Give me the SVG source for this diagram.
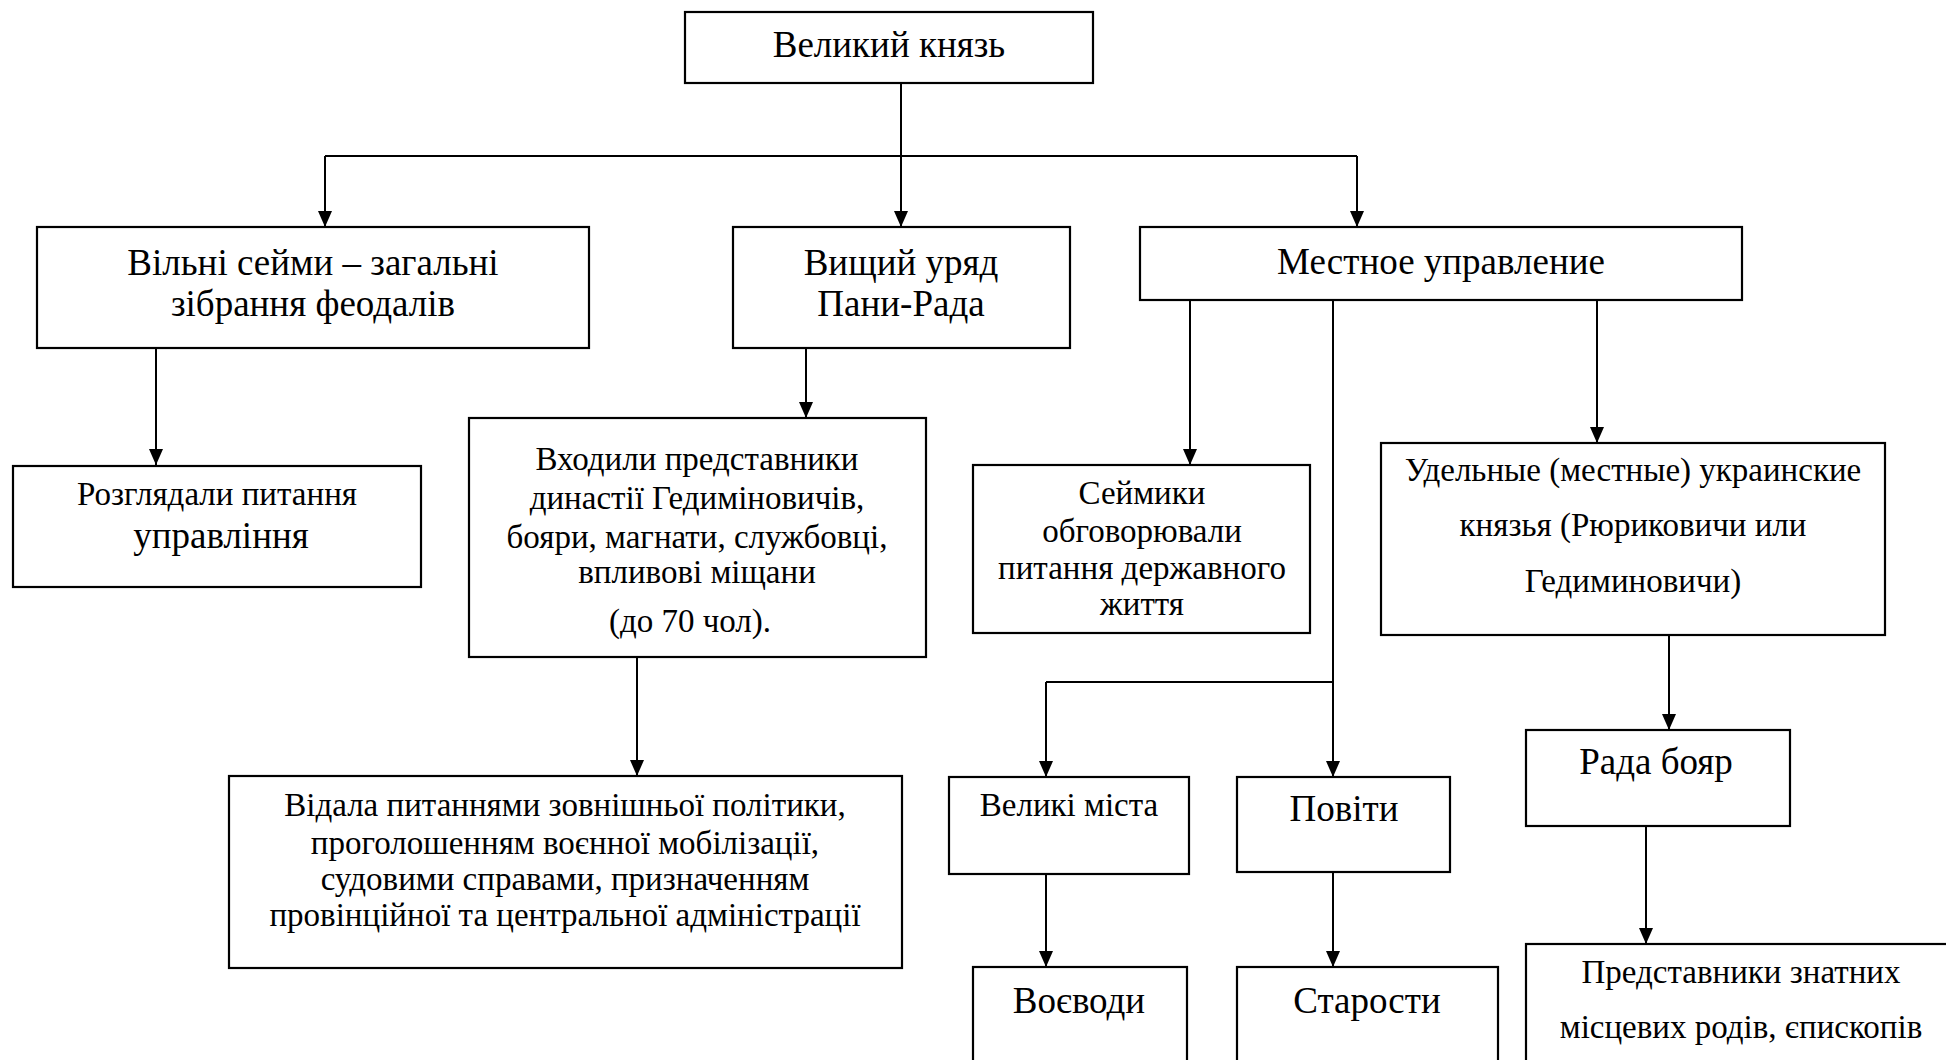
<svg xmlns="http://www.w3.org/2000/svg" width="1946" height="1060" viewBox="0 0 1946 1060">
<defs>
<style>
.box{fill:#fff;stroke:#000;stroke-width:2.2}
.t{font-family:"Liberation Serif","Times New Roman",serif;fill:#000;text-anchor:middle}
.b{font-size:37px}
.s{font-size:33px}
.c{fill:none;stroke:#000;stroke-width:2}
.a{marker-end:url(#ah)}
</style>
<marker id="ah" viewBox="0 0 16 14" markerWidth="16" markerHeight="14" refX="16" refY="7" orient="auto" markerUnits="userSpaceOnUse">
<path d="M0,0 L16,7 L0,14 z" fill="#000"/>
</marker>
</defs>
<rect width="1946" height="1060" fill="#fff"/>

<g id="connectors">
<path class="c" d="M325,156 H1357"/>
<path class="c a" d="M901,83 V227"/>
<path class="c a" d="M325,156 V227"/>
<path class="c a" d="M1357,156 V227"/>
<path class="c a" d="M156,348 V465"/>
<path class="c a" d="M806,348 V418"/>
<path class="c a" d="M637,657 V776"/>
<path class="c a" d="M1190,300 V465"/>
<path class="c a" d="M1333,300 V777"/>
<path class="c" d="M1046,682 H1333"/>
<path class="c a" d="M1046,682 V777"/>
<path class="c a" d="M1597,300 V443"/>
<path class="c a" d="M1669,635 V730"/>
<path class="c a" d="M1646,826 V944"/>
<path class="c a" d="M1046,874 V967"/>
<path class="c a" d="M1333,872 V967"/>
</g>

<g id="n-velykyi-kniaz">
<rect class="box" x="685" y="12" width="408" height="71"/>
<text class="t b" x="889" y="57">Великий князь</text>
</g>

<g id="n-vilni-seimy">
<rect class="box" x="37" y="227" width="552" height="121"/>
<text class="t b" x="313" y="275">Вільні сейми – загальні</text>
<text class="t b" x="313" y="316">зібрання феодалів</text>
</g>

<g id="n-vyshchyi-uriad">
<rect class="box" x="733" y="227" width="337" height="121"/>
<text class="t b" x="901" y="275">Вищий уряд</text>
<text class="t b" x="901" y="316">Пани-Рада</text>
</g>

<g id="n-mestnoe">
<rect class="box" x="1140" y="227" width="602" height="73"/>
<text class="t b" x="1441" y="274">Местное управление</text>
</g>

<g id="n-rozgliadaly">
<rect class="box" x="13" y="466" width="408" height="121"/>
<text class="t s" x="217" y="505">Розглядали питання</text>
<text class="t b" x="221" y="548">управління</text>
</g>

<g id="n-vkhodyly">
<rect class="box" x="469" y="418" width="457" height="239"/>
<text class="t s" x="697" y="470">Входили представники</text>
<text class="t s" x="697" y="509">династії Гедиміновичів,</text>
<text class="t s" x="697" y="548">бояри, магнати, службовці,</text>
<text class="t s" x="697" y="583">впливові міщани</text>
<text class="t s" x="690" y="632">(до 70 чол).</text>
</g>

<g id="n-vidala">
<rect class="box" x="229" y="776" width="673" height="192"/>
<text class="t s" x="565" y="816">Відала питаннями зовнішньої політики,</text>
<text class="t s" x="565" y="854">проголошенням воєнної мобілізації,</text>
<text class="t s" x="565" y="890">судовими справами, призначенням</text>
<text class="t s" x="565" y="926">провінційної та центральної адміністрації</text>
</g>

<g id="n-seimyky">
<rect class="box" x="973" y="465" width="337" height="168"/>
<text class="t s" x="1142" y="504">Сеймики</text>
<text class="t s" x="1142" y="542">обговорювали</text>
<text class="t s" x="1142" y="579">питання державного</text>
<text class="t s" x="1142" y="615">життя</text>
</g>

<g id="n-udelnye">
<rect class="box" x="1381" y="443" width="504" height="192"/>
<text class="t s" x="1633" y="481">Удельные (местные) украинские</text>
<text class="t s" x="1633" y="536">князья (Рюриковичи или</text>
<text class="t s" x="1633" y="592">Гедиминовичи)</text>
</g>

<g id="n-velyki-mista">
<rect class="box" x="949" y="777" width="240" height="97"/>
<text class="t s" x="1069" y="816">Великі міста</text>
</g>

<g id="n-povity">
<rect class="box" x="1237" y="777" width="213" height="95"/>
<text class="t b" x="1344" y="821">Повіти</text>
</g>

<g id="n-voievody">
<rect class="box" x="973" y="967" width="214" height="120"/>
<text class="t b" x="1079" y="1013">Воєводи</text>
</g>

<g id="n-starosty">
<rect class="box" x="1237" y="967" width="261" height="120"/>
<text class="t b" x="1367" y="1013">Старости</text>
</g>

<g id="n-rada-boiar">
<rect class="box" x="1526" y="730" width="264" height="96"/>
<text class="t b" x="1656" y="774">Рада бояр</text>
</g>

<g id="n-predstavnyky">
<rect class="box" x="1526" y="944" width="440" height="140"/>
<text class="t s" x="1741" y="983">Представники знатних</text>
<text class="t s" x="1741" y="1038">місцевих родів, єпископів</text>
</g>
</svg>
